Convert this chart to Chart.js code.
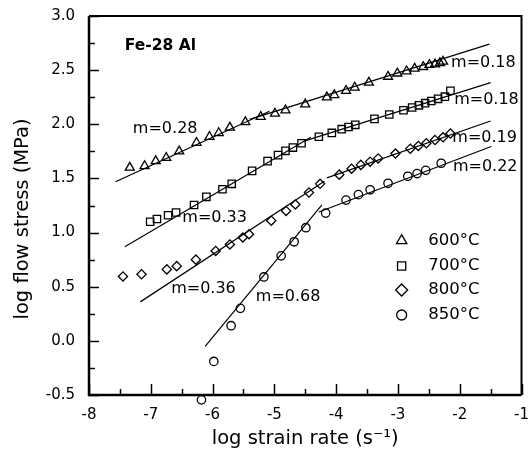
<!DOCTYPE html>
<html>
<head>
<meta charset="utf-8">
<title>Fe-28 Al: log flow stress vs log strain rate</title>
<script src="https://cdn.jsdelivr.net/npm/chart.js@4.4.0/dist/chart.umd.min.js"></script>
<style>
  html, body { margin:0; padding:0; background:#fff; }
  canvas { display:block; }
</style>
</head>
<body>
<canvas id="ctx" width="528" height="457"></canvas>
<script>
var FONT = "'DejaVu Sans', sans-serif";
Chart.defaults.font.family = FONT;
Chart.defaults.color = '#000';

// measured points, log strain rate (x) / log flow stress (y)
var x600 = [-7.34,-7.10,-6.92,-6.75,-6.54,-6.26,-6.05,-5.90,-5.72,-5.47,-5.22,-4.99,-4.82,-4.50,-4.15,-4.03,-3.84,-3.70,-3.47,-3.16,-3.01,-2.86,-2.73,-2.59,-2.49,-2.40,-2.32,-2.27];
var y600 = [1.60,1.615,1.66,1.69,1.75,1.83,1.885,1.92,1.97,2.02,2.07,2.10,2.13,2.185,2.25,2.27,2.31,2.34,2.385,2.44,2.47,2.49,2.515,2.53,2.55,2.555,2.565,2.58];

var x700 = [-7.01,-6.90,-6.72,-6.59,-6.30,-6.10,-5.84,-5.69,-5.36,-5.11,-4.94,-4.82,-4.70,-4.56,-4.28,-4.07,-3.91,-3.80,-3.69,-3.38,-3.14,-2.91,-2.77,-2.66,-2.56,-2.46,-2.35,-2.24,-2.15];
var y700 = [1.10,1.125,1.16,1.185,1.255,1.33,1.40,1.45,1.57,1.66,1.715,1.755,1.785,1.825,1.885,1.92,1.955,1.975,1.995,2.05,2.09,2.13,2.155,2.175,2.195,2.215,2.235,2.255,2.31];

var x800 = [-7.45,-7.15,-6.74,-6.58,-6.27,-5.95,-5.72,-5.51,-5.41,-5.05,-4.81,-4.66,-4.44,-4.26,-3.95,-3.75,-3.60,-3.45,-3.32,-3.04,-2.80,-2.67,-2.54,-2.40,-2.27,-2.15];
var y800 = [0.595,0.615,0.66,0.69,0.75,0.83,0.89,0.955,0.985,1.11,1.20,1.26,1.37,1.45,1.535,1.59,1.625,1.655,1.685,1.73,1.775,1.80,1.825,1.855,1.88,1.915];

var x850 = [-6.18,-5.98,-5.70,-5.55,-5.17,-4.89,-4.68,-4.49,-4.17,-3.84,-3.64,-3.45,-3.16,-2.84,-2.69,-2.55,-2.30];
var y850 = [-0.545,-0.19,0.14,0.30,0.59,0.785,0.915,1.045,1.18,1.30,1.35,1.395,1.455,1.52,1.545,1.575,1.64];

// fitted lines: end points
var fit600aX = [-7.57,-5.08], fit600aY = [1.47,2.12];
var fit600bX = [-5.40,-1.52], fit600bY = [2.045,2.74];
var fit700aX = [-7.42,-4.41], fit700aY = [0.87,1.88];
var fit700bX = [-4.52,-1.50], fit700bY = [1.845,2.385];
var fit800aX = [-7.17,-4.19], fit800aY = [0.36,1.475];
var fit800bX = [-4.15,-1.50], fit800bY = [1.505,2.03];
var fit850aX = [-6.12,-4.23], fit850aY = [-0.05,1.255];
var fit850bX = [-4.28,-1.49], fit850bY = [1.19,1.795];

var xTickVals = [-8,-7,-6,-5,-4,-3,-2,-1];
var xTickLabels = ['-8','-7','-6','-5','-4','-3','-2','-1'];
var yTickVals = [-0.5,0,0.5,1,1.5,2,2.5,3];
var yTickLabels = ['-0.5','0.0','0.5','1.0','1.5','2.0','2.5','3.0'];

// slope labels, anchored at left/middle in data units
var slopeText = ['m=0.28','m=0.18','m=0.33','m=0.18','m=0.36','m=0.19','m=0.68','m=0.22'];
var slopeX = [-7.29,-2.14,-6.49,-2.09,-6.67,-2.12,-5.30,-2.11];
var slopeY = [1.957,2.566,1.135,2.222,0.479,1.878,0.410,1.606];

var legendY = [0.925,0.691,0.470,0.239];

function pts(xs, ys){
	return xs.map(function(x,i){ return {x:x, y:ys[i]}; });
}
function markSet(label, xs, ys, style, r){
	return {label:label, data:pts(xs,ys), showLine:false, clip:false,
		pointStyle:style, pointRadius:r, pointBorderWidth:1.3,
		borderColor:'#000', backgroundColor:'rgba(0,0,0,0)',
		pointBorderColor:'#000', pointBackgroundColor:'rgba(0,0,0,0)', legendMark:true};
}
function fitSet(label, xs, ys){
	return {label:label, data:pts(xs,ys), showLine:true, borderColor:'#000', borderWidth:1.2, pointRadius:0};
}

function drawMark(ctx, style, x, y, r){
	ctx.beginPath();
	if(style=='triangle'){
		ctx.moveTo(x, y-r);
		ctx.lineTo(x+r*0.866, y+r*0.5);
		ctx.lineTo(x-r*0.866, y+r*0.5);
		ctx.closePath();
	}else if(style=='rect'){
		var s = r*0.7071;
		ctx.rect(x-s, y-s, 2*s, 2*s);
	}else if(style=='rectRot'){
		ctx.moveTo(x, y-r); ctx.lineTo(x+r, y); ctx.lineTo(x, y+r); ctx.lineTo(x-r, y);
		ctx.closePath();
	}else{
		ctx.arc(x, y, r, 0, Math.PI*2);
	}
	ctx.stroke();
}

var decor = {
	id:'decor',
	afterDraw:function(chart){
		var ctx = chart.ctx, a = chart.chartArea, sx = chart.scales.x, sy = chart.scales.y;
		ctx.save();
		ctx.strokeStyle = '#000';
		ctx.fillStyle = '#000';

		// inward ticks, long on labelled values
		ctx.lineWidth = 1.5;
		var v, p, len;
		for(v=-0.5; v<=3.001; v+=0.25){
			p = Math.round(sy.getPixelForValue(v))+0.5;
			len = Math.abs(v*2-Math.round(v*2))<1e-6 ? 10 : 6;
			ctx.beginPath(); ctx.moveTo(a.left, p); ctx.lineTo(a.left+len, p); ctx.stroke();
		}
		for(v=-8; v<=-0.999; v+=0.5){
			p = Math.round(sx.getPixelForValue(v))+0.5;
			len = Math.abs(v-Math.round(v))<1e-6 ? 11 : 6;
			ctx.beginPath(); ctx.moveTo(p, a.bottom); ctx.lineTo(p, a.bottom-len); ctx.stroke();
		}

		// frame
		ctx.lineWidth = 2;
		ctx.beginPath();
		ctx.moveTo(a.left, a.top); ctx.lineTo(a.right, a.top); ctx.lineTo(a.right, a.bottom);
		ctx.stroke();
		ctx.lineWidth = 2.5;
		ctx.beginPath();
		ctx.moveTo(a.left, a.top); ctx.lineTo(a.left, a.bottom); ctx.lineTo(a.right, a.bottom);
		ctx.stroke();

		// y title
		ctx.save();
		ctx.font = '19.5px ' + FONT;
		ctx.textAlign = 'center';
		ctx.textBaseline = 'middle';
		ctx.translate(22.5, (a.top+a.bottom)/2 + 13.5);
		ctx.rotate(-Math.PI/2);
		ctx.fillText('log flow stress (MPa)', 0, 0);
		ctx.restore();

		// alloy label and slopes
		ctx.textAlign = 'left';
		ctx.textBaseline = 'middle';
		ctx.font = 'bold 15.5px ' + FONT;
		ctx.fillText('Fe-28 Al', sx.getPixelForValue(-7.42), sy.getPixelForValue(2.723));
		ctx.font = '16px ' + FONT;
		slopeText.forEach(function(t,i){
			ctx.fillText(t, sx.getPixelForValue(slopeX[i]), sy.getPixelForValue(slopeY[i]));
		});

		// legend
		ctx.lineWidth = 1.3;
		ctx.font = '16.5px ' + FONT;
		var k = 0;
		chart.data.datasets.forEach(function(ds){
			if(!ds.legendMark) return;
			var py = sy.getPixelForValue(legendY[k]);
			var r = ds.pointStyle=='rect' ? 5.8 : (ds.pointStyle=='circle' ? 5 : 6);
			drawMark(ctx, ds.pointStyle, sx.getPixelForValue(-2.94), py, r);
			ctx.fillText(ds.label, sx.getPixelForValue(-2.51), py);
			k++;
		});
		ctx.restore();
	}
};

var chart = new Chart(document.getElementById('ctx'), {
	type:'scatter',
	data:{
		datasets:[
			markSet('600°C', x600, y600, 'triangle', 5.2),
			markSet('700°C', x700, y700, 'rect', 5.2),
			markSet('800°C', x800, y800, 'rectRot', 4.6),
			markSet('850°C', x850, y850, 'circle', 4.2),
			fitSet('600°C fit, m=0.28', fit600aX, fit600aY),
			fitSet('600°C fit, m=0.18', fit600bX, fit600bY),
			fitSet('700°C fit, m=0.33', fit700aX, fit700aY),
			fitSet('700°C fit, m=0.18', fit700bX, fit700bY),
			fitSet('800°C fit, m=0.36', fit800aX, fit800aY),
			fitSet('800°C fit, m=0.19', fit800bX, fit800bY),
			fitSet('850°C fit, m=0.68', fit850aX, fit850aY),
			fitSet('850°C fit, m=0.22', fit850bX, fit850bY)
		]
	},
	options:{
		responsive:false,
		animation:false,
		layout:{padding:{left:0, right:4, top:16, bottom:0}},
		plugins:{legend:{display:false}, tooltip:{enabled:false}},
		scales:{
			x:{
				type:'linear', min:-8, max:-1,
				afterBuildTicks:function(s){ s.ticks = xTickVals.map(function(v){ return {value:v}; }); },
				afterFit:function(s){ s.height = 62; s.paddingLeft = 0; s.paddingRight = 0; },
				grid:{display:false, drawTicks:false},
				border:{display:false},
				ticks:{autoSkip:false, maxRotation:0, padding:11, font:{size:15}, color:'#000',
					callback:function(v,i){ return xTickLabels[i]; }},
				title:{display:true, text:'log strain rate (s⁻¹)', font:{size:19.5}, color:'#000', padding:{top:0, bottom:6}}
			},
			y:{
				type:'linear', min:-0.5, max:3.0,
				afterBuildTicks:function(s){ s.ticks = yTickVals.map(function(v){ return {value:v}; }); },
				afterFit:function(s){ s.width = 89; s.paddingTop = 0; s.paddingBottom = 0; },
				grid:{display:false, drawTicks:false},
				border:{display:false},
				ticks:{autoSkip:false, padding:14, font:{size:15}, color:'#000',
					callback:function(v,i){ return yTickLabels[i]; }}
			}
		}
	},
	plugins:[decor]
});
</script>
</body>
</html>
